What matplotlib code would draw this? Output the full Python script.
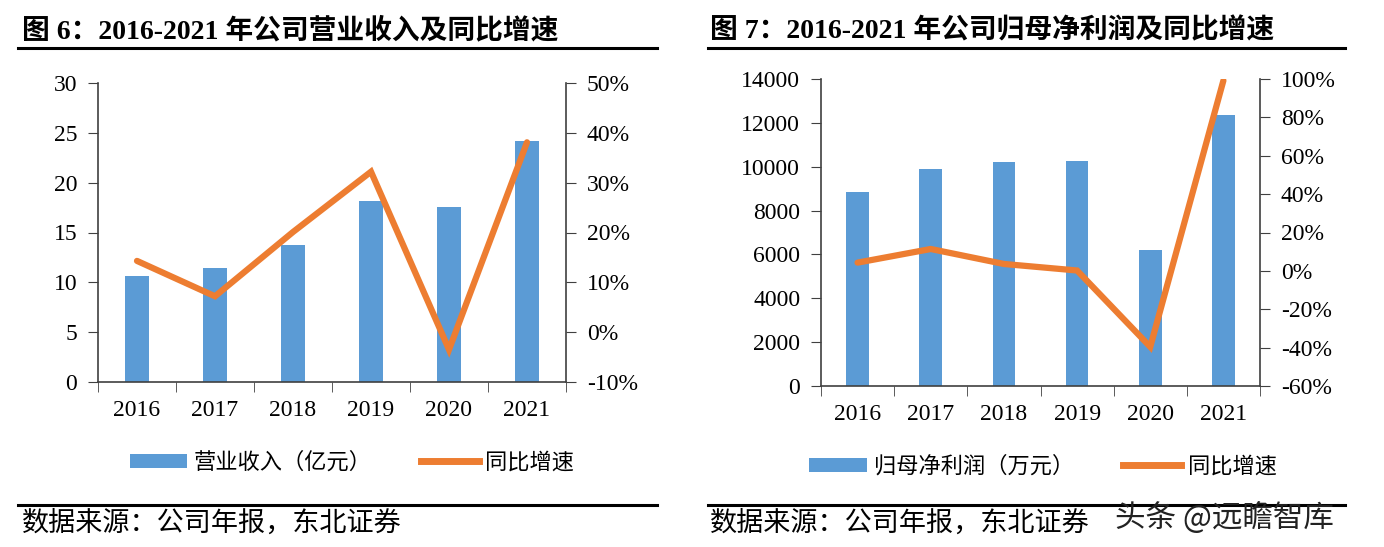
import matplotlib
matplotlib.use("Agg")
import matplotlib.pyplot as plt
from matplotlib.lines import Line2D
from matplotlib.patches import Patch

years = ["2016", "2017", "2018", "2019", "2020", "2021"]
revenue = [10.67, 11.44, 13.74, 18.15, 17.55, 24.2]          # 亿元
revenue_yoy = [14.3, 7.2, 20.1, 32.2, -3.5, 38.1]            # %
profit = [8860, 9880, 10210, 10240, 6200, 12360]             # 万元
profit_yoy = [4.3, 11.4, 3.6, 0.2, -39.6, 99.2]              # %

BLUE = "#5B9BD5"
ORANGE = "#ED7D31"
SERIF = ["Liberation Serif", "Noto Sans CJK SC"]
CJK = ["Noto Sans CJK SC", "DejaVu Sans"]
TICK_FS = 17

fig = plt.figure(figsize=(13.84, 5.47), dpi=100)
W, H = 1384, 547


def fx(x):
    return x / W


def fy(y):
    return 1 - y / H


def panel(rect, bars, yoy, ylim, yticks, y2lim, y2ticks):
    ax = fig.add_axes(rect)
    x = list(range(len(years)))
    ax.bar(x, bars, width=0.31, color=BLUE, zorder=2)
    ax.set_xlim(-0.5, len(years) - 0.5)
    ax.set_ylim(*ylim)
    ax.set_yticks(yticks)
    ax.set_yticklabels([f"{v:g}" for v in yticks], fontfamily=SERIF, fontsize=TICK_FS)
    ax.set_xticks(x)
    ax.set_xticklabels(years, fontfamily=SERIF, fontsize=TICK_FS)
    ax.tick_params(axis="x", which="major", length=0, pad=13)
    ax.set_xticks([i - 0.5 for i in range(len(years) + 1)], minor=True)
    ax.tick_params(axis="x", which="minor", length=7, direction="out", color="#404040")
    ax.tick_params(axis="y", length=7, direction="out", color="#404040", pad=8)
    for s in ["top", "right"]:
        ax.spines[s].set_visible(False)
    for s in ["left", "bottom"]:
        ax.spines[s].set_color("#404040")
        ax.spines[s].set_linewidth(1.2)
    ax2 = ax.twinx()
    ax2.plot(x, yoy, color=ORANGE, lw=4.5, solid_capstyle="round",
             solid_joinstyle="miter", zorder=3)
    ax2.set_ylim(*y2lim)
    ax2.set_yticks(y2ticks)
    ax2.set_yticklabels([f"{v:g}%" for v in y2ticks], fontfamily=SERIF, fontsize=TICK_FS)
    ax2.tick_params(axis="y", length=7, direction="out", color="#404040", pad=8)
    for s in ["top", "left", "bottom"]:
        ax2.spines[s].set_visible(False)
    ax2.spines["right"].set_color("#404040")
    ax2.spines["right"].set_linewidth(1.2)
    handles = [Patch(facecolor=BLUE, edgecolor="none"),
               Line2D([0], [0], color=ORANGE, lw=5)]
    return ax, ax2, handles


axL, axL2, hL = panel([fx(98), fy(382), fx(566) - fx(98), fy(83) - fy(382)],
                      revenue, revenue_yoy, (0, 30), list(range(0, 31, 5)),
                      (-10, 50), list(range(-10, 51, 10)))
axR, axR2, hR = panel([fx(821), fy(386), fx(1260) - fx(821), fy(79) - fy(386)],
                      profit, profit_yoy, (0, 14000), list(range(0, 14001, 2000)),
                      (-60, 100), list(range(-60, 101, 20)))

leg_kw = dict(loc="center", ncol=2, frameon=False,
              prop={"family": CJK, "size": 16}, handlelength=2.6, handleheight=0.6,
              columnspacing=2.2, handletextpad=0.3)
fig.legend(hL, ["营业收入（亿元）", "同比增速"], bbox_to_anchor=(fx(352), fy(462)), **leg_kw)
fig.legend(hR, ["归母净利润（万元）", "同比增速"], bbox_to_anchor=(fx(1043), fy(466)), **leg_kw)

# titles
fig.text(fx(22), fy(31), "图 6：2016-2021 年公司营业收入及同比增速", fontfamily=SERIF,
         fontsize=20, fontweight="bold", va="center", ha="left")
fig.text(fx(710), fy(31), "图 7：2016-2021 年公司归母净利润及同比增速", fontfamily=SERIF,
         fontsize=20, fontweight="bold", va="center", ha="left")

# rules
for x0, x1, y in [(18, 657, 48), (708, 1345, 48), (18, 657, 505), (708, 1345, 505)]:
    fig.add_artist(Line2D([fx(x0), fx(x1)], [fy(y), fy(y)], color="black", lw=2.2))

fig.text(fx(22), fy(523), "数据来源：公司年报，东北证券", fontfamily=CJK, fontsize=19.5,
         va="center", ha="left")
fig.text(fx(710), fy(523), "数据来源：公司年报，东北证券", fontfamily=CJK, fontsize=19.5,
         va="center", ha="left")
fig.text(fx(1115), fy(518), "头条 @远瞻智库", fontfamily=CJK, fontsize=22,
         va="center", ha="left", color="#222222")

fig.savefig("out.png", dpi=100)
